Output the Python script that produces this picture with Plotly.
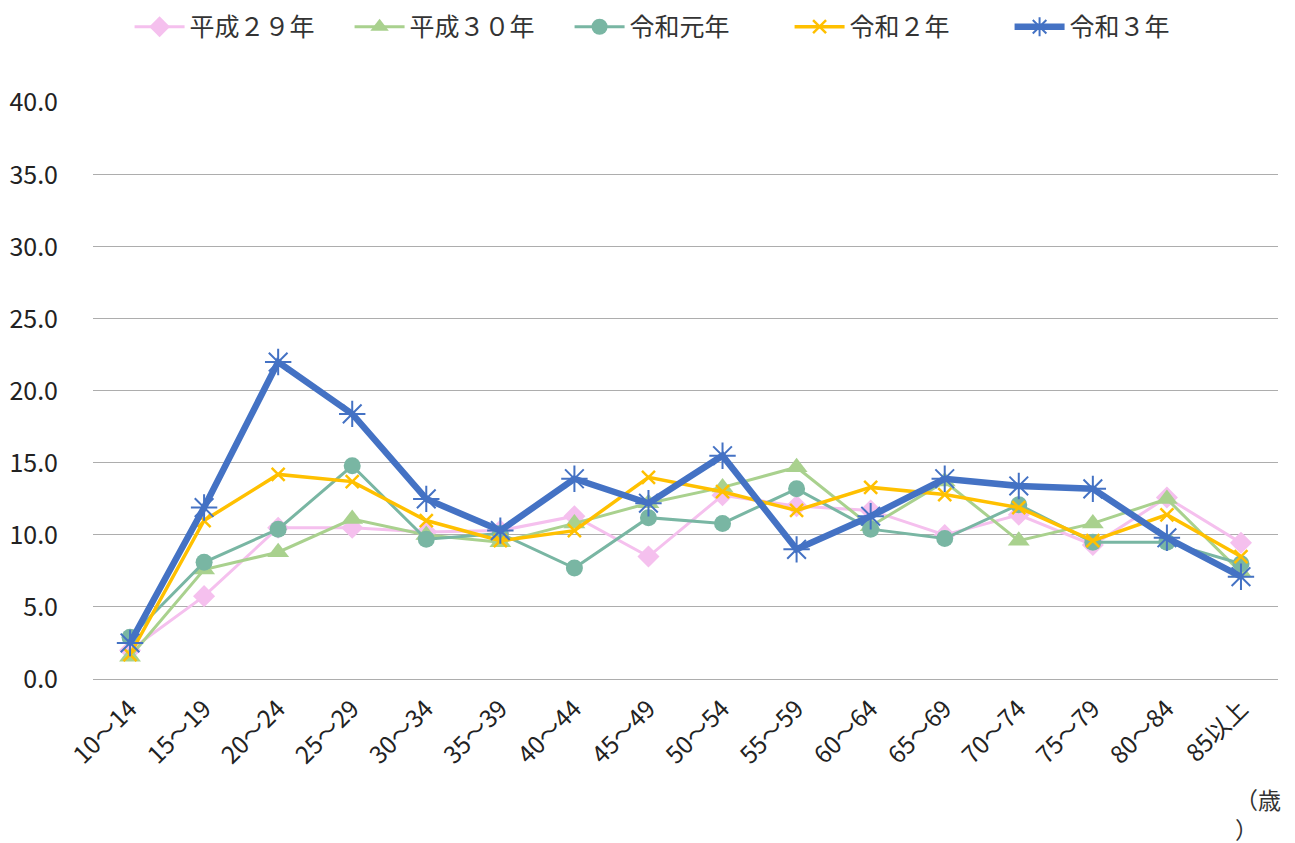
import plotly.graph_objects as go

categories = ["10～14", "15～19", "20～24", "25～29", "30～34", "35～39", "40～44", "45～49",
              "50～54", "55～59", "60～64", "65～69", "70～74", "75～79", "80～84", "85以上"]

h29 = [2.0, 5.75, 10.5, 10.5, 10.2, 10.3, 11.3, 8.5, 12.75, 12.0, 11.7, 10.0, 11.4, 9.3, 12.6, 9.45]
h30 = [1.55, 7.6, 8.8, 11.1, 10.0, 9.5, 10.8, 12.2, 13.3, 14.7, 10.6, 13.7, 9.6, 10.8, 12.5, 7.4]
r1 = [2.9, 8.1, 10.4, 14.8, 9.7, 10.1, 7.7, 11.2, 10.8, 13.2, 10.4, 9.75, 12.1, 9.5, 9.5, 8.0]
r2 = [1.7, 11.0, 14.2, 13.7, 11.0, 9.6, 10.3, 14.0, 13.0, 11.7, 13.3, 12.8, 11.9, 9.6, 11.4, 8.5]
r3 = [2.5, 11.9, 22.0, 18.4, 12.5, 10.3, 13.9, 12.2, 15.5, 9.0, 11.3, 13.9, 13.4, 13.2, 9.8, 7.1]

series_names = ["平成２９年", "平成３０年", "令和元年", "令和２年", "令和３年"]
y_ticks = [0, 5, 10, 15, 20, 25, 30, 35, 40]

FONT = "Noto Sans CJK JP"

styles = [
    dict(color="#F5C0EE", width=3, symbol="diamond", msize=17, mline=0),
    dict(color="#A9D18E", width=3, symbol="triangle-up", msize=19, mline=0),
    dict(color="#79B6A3", width=3, symbol="circle", msize=17, mline=0),
    dict(color="#FFC000", width=3.5, symbol="x-thin-open", msize=13, mline=2.5),
    dict(color="#4472C4", width=6.5, symbol="asterisk-open", msize=22, mline=2),
]

fig = go.Figure()
for name, vals, st in zip(series_names, [h29, h30, r1, r2, r3], styles):
    fig.add_trace(go.Scatter(
        x=categories, y=vals, name=name, mode="lines+markers",
        line=dict(color=st["color"], width=st["width"]),
        marker=dict(symbol=st["symbol"], size=st["msize"], color=st["color"],
                    line=dict(color=st["color"], width=st["mline"])),
    ))

fig.update_layout(
    width=1287, height=835,
    margin=dict(l=85, r=17, t=94, b=164, autoexpand=False),
    paper_bgcolor="white", plot_bgcolor="white",
    font=dict(family=FONT, size=24, color="#222"),
    legend=dict(orientation="h", x=0.495, xanchor="center", y=1.13, yanchor="middle",
                font=dict(size=25, family=FONT, color="#333"), itemwidth=50,
                entrywidth=155,
                traceorder="normal", bgcolor="rgba(0,0,0,0)"),
    showlegend=True,
)
fig.update_xaxes(type="category", range=[-0.5, 15.5], tickangle=-45, showgrid=False,
                 showline=False, ticks="", automargin=False, ticklabelstandoff=10,
                 tickfont=dict(size=24, family=FONT, color="#222"))
fig.update_yaxes(range=[0, 40.05], tickvals=y_ticks, tickformat=".1f", showgrid=True,
                 gridcolor="#ADADAD", gridwidth=1, zeroline=True, zerolinecolor="#ADADAD",
                 zerolinewidth=1, showline=False, ticks="", ticklabelstandoff=34,
                 automargin=False,
                 tickfont=dict(size=25, family=FONT, color="#222"))
fig.add_annotation(text="（歳<br>）", xref="paper", yref="paper", x=0.962, y=-0.175,
                   xanchor="left", yanchor="top", showarrow=False, align="left",
                   font=dict(size=23, family=FONT, color="#333"))

fig.write_html("out.html")
